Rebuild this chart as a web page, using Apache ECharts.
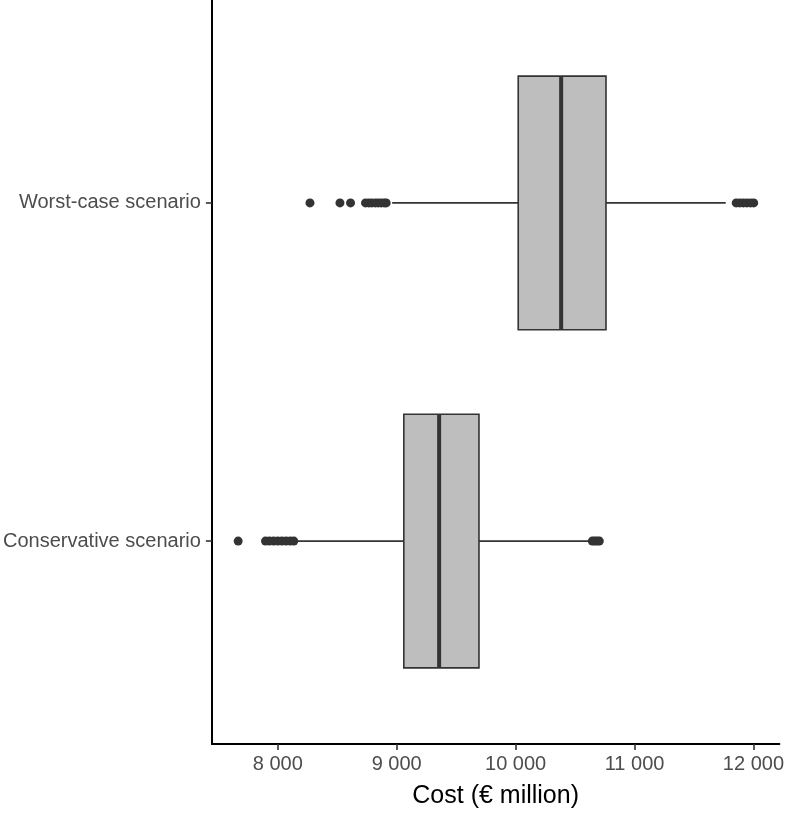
<!DOCTYPE html>
<html><head><meta charset="utf-8">
<script src="https://cdn.jsdelivr.net/npm/echarts@6/dist/echarts.min.js"></script>
<style>html,body{margin:0;padding:0;background:#fff}#c{width:787px;height:814px}</style>
</head><body><div id="c"></div><script>
// ---- data ----
const categories = ['Conservative scenario', 'Worst-case scenario'];
// [lower whisker, Q1, median, Q3, upper whisker]
const conservativeStats = [8170, 9060, 9357, 9692, 10615];
const worstCaseStats = [8962, 10022, 10383, 10760, 11767];
const conservativeOutliers = [7667, 7897, 7930, 7965, 8000, 8035, 8070, 8105, 8135, 10645, 10665, 10685, 10704];
const worstCaseOutliers = [8271, 8523, 8612, 8738, 8765, 8790, 8820, 8845, 8870, 8895, 8912, 11855, 11885, 11915, 11945, 11975, 12002];
const xTicks = [8000, 9000, 10000, 11000, 12000];
const xTitle = 'Cost (€ million)';
const xRange = [7446, 12218];

// ---- build ----
const statsList = [conservativeStats, worstCaseStats];
const boxData = statsList.map((s, i) => [i + 1].concat(s));
const outlierData = [];
[conservativeOutliers, worstCaseOutliers].forEach((arr, i) => arr.forEach(v => outlierData.push([v, i + 1])));

const FONT = 'Liberation Sans, Arial, sans-serif';
const dark = '#333333';

function renderBox(params, api) {
  const pos = api.value(0);
  const v = [1, 2, 3, 4, 5].map(d => api.value(d));
  const xs = v.map(val => api.coord([val, pos])[0]);
  const y = api.coord([v[0], pos])[1];
  const yTop = api.coord([v[0], pos + 0.375])[1];
  const yBot = api.coord([v[0], pos - 0.375])[1];
  return {
    type: 'group',
    children: [
      { type: 'line', shape: { x1: xs[0], y1: y, x2: xs[1], y2: y }, style: { stroke: dark, lineWidth: 1.6 } },
      { type: 'line', shape: { x1: xs[3], y1: y, x2: xs[4], y2: y }, style: { stroke: dark, lineWidth: 1.6 } },
      { type: 'rect', shape: { x: xs[1], y: yTop, width: xs[3] - xs[1], height: yBot - yTop }, style: { fill: '#BEBEBE', stroke: dark, lineWidth: 1.6 } },
      { type: 'line', shape: { x1: xs[2], y1: yTop, x2: xs[2], y2: yBot }, style: { stroke: dark, lineWidth: 4 } }
    ]
  };
}

const chart = echarts.init(document.getElementById('c'), null, { renderer: 'canvas' });
chart.setOption({
  animation: false,
  backgroundColor: '#ffffff',
  grid: { left: 211, right: 7, top: 0, bottom: 64, containLabel: false },
  xAxis: {
    type: 'value', min: xRange[0], max: xRange[1],
    name: xTitle, nameLocation: 'middle', nameGap: 40,
    nameTextStyle: { fontSize: 25, color: '#000', fontFamily: FONT },
    axisLine: { show: true, lineStyle: { color: '#000', width: 2 } },
    axisTick: { show: true, customValues: xTicks, length: 6, lineStyle: { color: dark, width: 1.6 } },
    axisLabel: { customValues: xTicks, margin: 10, fontSize: 20, color: '#4D4D4D', fontFamily: FONT,
      formatter: v => String(v).replace(/\B(?=(\d{3})+(?!\d))/g, ' ') },
    splitLine: { show: false }
  },
  yAxis: {
    type: 'value', min: 0.4, max: 2.6,
    axisLine: { show: true, lineStyle: { color: '#000', width: 2 } },
    axisTick: { show: true, customValues: [1, 2], length: 6, lineStyle: { color: dark, width: 1.6 } },
    axisLabel: { customValues: [1, 2], margin: 11, fontSize: 20, color: '#4D4D4D', fontFamily: FONT,
      formatter: v => categories[Math.round(v) - 1] || '' },
    splitLine: { show: false }
  },
  series: [
    { type: 'custom', renderItem: renderBox, data: boxData, encode: { x: [1, 2, 3, 4, 5], y: 0 }, z: 2 },
    { type: 'scatter', data: outlierData, symbol: 'circle', symbolSize: 9, itemStyle: { color: dark, opacity: 1 }, z: 3 }
  ]
});
</script></body></html>
